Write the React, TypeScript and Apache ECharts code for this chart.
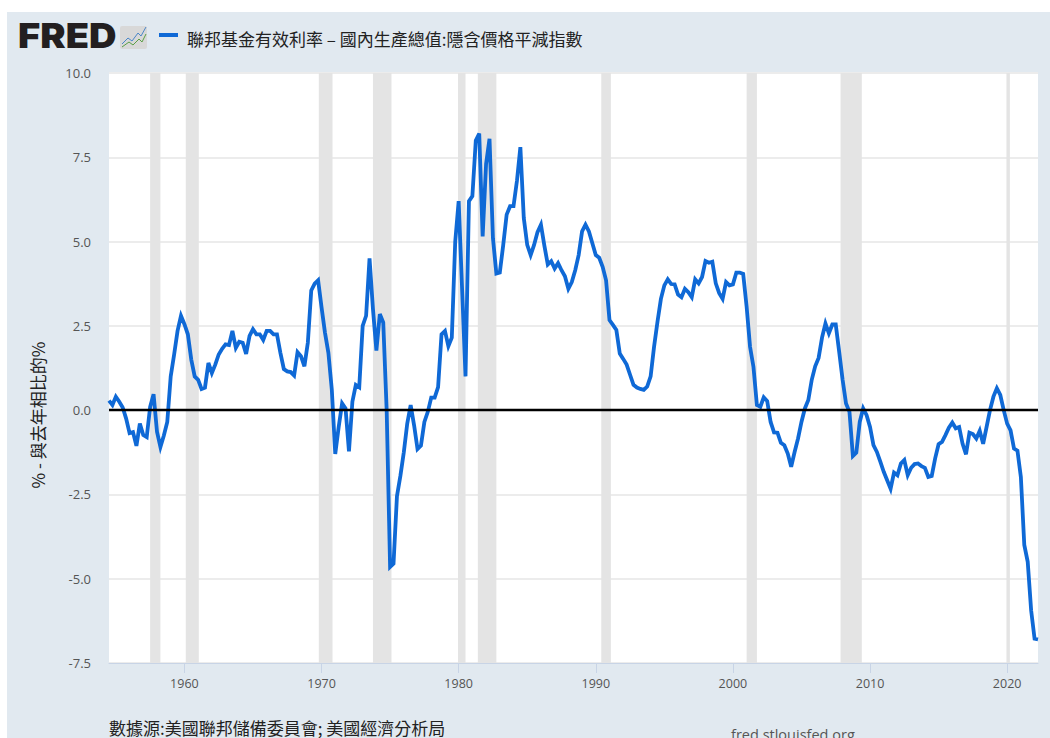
import React, { useEffect, useRef } from "react";
import * as echarts from "echarts";

const START_YEAR = 1954.5;
const END_YEAR = 2022.25;
const realRate = [
  0.28,0.15,0.4,0.25,0.08,-0.25,-0.68,-0.65,-1.06,-0.4,-0.74,-0.8,0.1,0.47,-0.64,-1.09,-0.75,-0.35,
  1.0,1.65,2.35,2.8,2.55,2.25,1.5,1.0,0.9,0.63,0.67,1.4,1.1,1.35,1.65,1.82,1.95,1.93,2.35,1.85,2.03,2.0,
  1.67,2.2,2.4,2.25,2.25,2.08,2.35,2.35,2.25,2.25,1.7,1.22,1.15,1.13,1.03,1.72,1.6,1.3,2.0,3.55,3.75,3.85,
  3.05,2.3,1.7,0.6,-1.3,-0.5,0.2,0.05,-1.22,0.25,0.75,0.68,2.5,2.8,4.5,3.0,1.77,2.85,2.6,0,-4.65,-4.55,
  -2.55,-1.95,-1.25,-0.4,0.15,-0.45,-1.15,-1.05,-0.35,-0.05,0.37,0.37,0.68,2.25,2.35,1.9,2.15,5.0,6.2,3.6,
  1.0,6.2,6.35,8.0,8.2,5.15,7.3,8.05,5.1,4.05,4.08,4.9,5.8,6.05,6.05,6.8,7.8,5.7,4.9,4.6,4.9,5.28,5.5,
  4.88,4.32,4.42,4.2,4.36,4.15,3.97,3.6,3.8,4.15,4.6,5.3,5.5,5.3,4.95,4.6,4.52,4.25,3.85,2.67,2.53,2.38,
  1.68,1.52,1.35,1.05,0.75,0.67,0.63,0.6,0.7,1.0,1.88,2.62,3.3,3.7,3.88,3.74,3.73,3.43,3.35,3.6,3.5,3.35,
  3.88,3.76,3.95,4.42,4.37,4.4,3.76,3.47,3.3,3.8,3.7,3.73,4.08,4.08,4.04,3.07,1.88,1.28,0.15,0.1,0.38,0.27,
  -0.35,-0.66,-0.67,-0.97,-1.04,-1.29,-1.68,-1.24,-0.84,-0.35,0.05,0.3,0.9,1.3,1.55,2.15,2.57,2.28,2.54,2.54,
  1.73,0.9,0.2,-0.05,-1.36,-1.26,-0.35,0.05,-0.15,-0.5,-1.04,-1.24,-1.53,-1.83,-2.08,-2.33,-1.85,-1.93,-1.58,
  -1.48,-1.93,-1.71,-1.6,-1.58,-1.66,-1.71,-1.98,-1.95,-1.43,-1.01,-0.94,-0.74,-0.52,-0.37,-0.54,-0.5,-1.0,-1.31,
  -0.67,-0.71,-0.84,-0.61,-1.0,-0.5,0,0.4,0.65,0.45,0,-0.4,-0.6,-1.14,-1.2,-1.98,-4.0,-4.5,-5.94,-6.78,-6.8,
];
const recessions = [
  [1957.5, 1958.25],[1960.1, 1961.05],[1969.8, 1970.8],[1973.75, 1975.1],[1979.95, 1980.5],
  [1981.4, 1982.75],[1990.4, 1991.1],[2001.0, 2001.75],[2007.85, 2009.4],[2019.95, 2020.2],
];
const decadeTicks = [1960, 1970, 1980, 1990, 2000, 2010, 2020];
const seriesName = "聯邦基金有效利率 – 國內生產總值:隱含價格平減指數";
const yAxisName = "% - 與去年相比的%";
const sourceText = "數據源:美國聯邦儲備委員會; 美國經濟分析局";
const siteText = "fred.stlouisfed.org";

const CJK = '"Noto Sans CJK TC", "Noto Sans", sans-serif';
const LATIN = '"Open Sans", "Noto Sans", sans-serif';
const BLUE = "#0f69d6";

export default function App() {
  const ref = useRef<HTMLDivElement>(null);
  useEffect(() => {
    const chart = echarts.init(ref.current!, null, { renderer: "svg" });
    chart.setOption({
      animation: false,
      backgroundColor: "transparent",
      grid: { left: 102, top: 61, width: 929, height: 590, backgroundColor: "#ffffff", show: true, borderWidth: 0 },
      xAxis: {
        type: "value", min: START_YEAR, max: END_YEAR,
        splitLine: { show: false },
        axisLine: { show: true, onZero: false, lineStyle: { color: "#c8d4e6", width: 1 } },
        axisTick: { show: true, length: 10, customValues: decadeTicks, lineStyle: { color: "#c8d4e6", width: 1 } },
        axisLabel: {
          customValues: decadeTicks, formatter: (v: number) => String(Math.round(v)),
          color: "#555555", fontFamily: LATIN, fontSize: 12.5, margin: 14,
        },
      },
      yAxis: {
        type: "value", min: -7.5, max: 10, interval: 2.5,
        axisLine: { show: false }, axisTick: { show: false },
        axisLabel: { formatter: (v: number) => v.toFixed(1), color: "#555555", fontFamily: LATIN, fontSize: 13, margin: 18 },
        splitLine: { show: true, lineStyle: { color: "#ececec", width: 2 } },
      },
      series: [{
        type: "line", name: seriesName, showSymbol: false, symbol: "none",
        data: realRate.map((v, i) => [START_YEAR + i / 4, v]),
        lineStyle: { color: BLUE, width: 3.8, join: "miter", miterLimit: 4 },
        markArea: {
          silent: true, itemStyle: { color: "#e4e4e4" },
          data: recessions.map(([a, b]) => [{ xAxis: a }, { xAxis: b }]),
        },
        markLine: {
          silent: true, symbol: "none", label: { show: false },
          lineStyle: { color: "#000000", width: 2.4, type: "solid" },
          data: [{ yAxis: 0 }],
        },
      }],
      graphic: [
        { type: "text", x: 11, y: 7, scaleX: 1.12, style: { text: "FRED", font: '900 34px Inter, "Open Sans", sans-serif', fill: "#231f20", textVerticalAlign: "top" } },
        { type: "rect", x: 113, y: 14, shape: { width: 27, height: 23, r: 2 }, style: { fill: "#d8d8d8" } },
        { type: "polyline", shape: { points: [[115, 32], [121, 26], [125, 29], [131, 21], [134, 24], [139, 15]] }, style: { stroke: "#4a86c8", lineWidth: 1, fill: "none" } },
        { type: "polyline", shape: { points: [[115, 35], [122, 30], [126, 33], [132, 27], [135, 30], [139, 22]] }, style: { stroke: "#5a9e46", lineWidth: 1, fill: "none" } },
        { type: "line", shape: { x1: 152, y1: 23, x2: 171, y2: 23 }, style: { stroke: BLUE, lineWidth: 4 } },
        { type: "text", x: 180, y: 26, style: { text: seriesName, font: `17px ${CJK}`, fill: "#222222", textVerticalAlign: "middle" } },
        { type: "text", x: 30, y: 403, rotation: Math.PI / 2, style: { text: yAxisName, font: `17px ${CJK}`, fill: "#222222", textAlign: "center", textVerticalAlign: "middle" } },
        { type: "text", x: 102, y: 715, style: { text: sourceText, font: `17px ${CJK}`, fill: "#222222", textVerticalAlign: "middle" } },
        { type: "text", x: 724, y: 722, style: { text: siteText, font: `14.5px ${LATIN}`, fill: "#555555", textVerticalAlign: "middle" } },
      ],
    });
    return () => chart.dispose();
  }, []);
  return (
    <div
      ref={ref}
      style={{ position: "fixed", left: 7, top: 12, width: 1043, height: 726, background: "#e1e9f0" }}
    />
  );
}
